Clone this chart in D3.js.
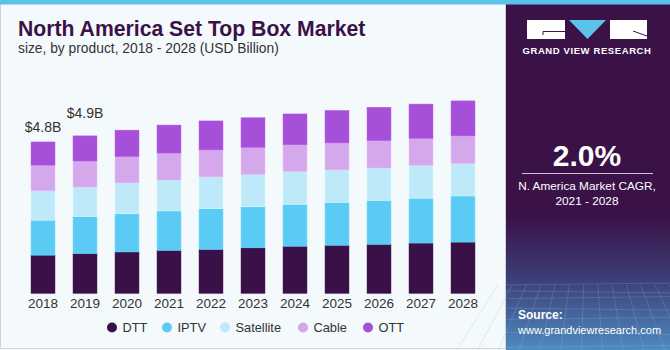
<!DOCTYPE html>
<html>
<head>
<meta charset="utf-8">
<script src="https://cdn.jsdelivr.net/npm/d3@7"></script>
<style>
  html, body { margin: 0; padding: 0; background: #fff; }
  svg { display: block; font-family: "Liberation Sans", Arial, sans-serif; }
</style>
</head>
<body>
<div id="chart"></div>
<script>
const years = ["2018", "2019", "2020", "2021", "2022", "2023", "2024", "2025", "2026", "2027", "2028"];
const products = ["DTT", "IPTV", "Satellite", "Cable", "OTT"];
const dtt       = [1.20, 1.25, 1.30, 1.35, 1.38, 1.43, 1.48, 1.51, 1.54, 1.58, 1.61];
const iptv      = [1.10, 1.16, 1.20, 1.24, 1.28, 1.29, 1.32, 1.35, 1.38, 1.41, 1.45];
const satellite = [0.92, 0.93, 0.97, 0.97, 1.00, 1.01, 1.03, 1.02, 1.02, 1.03, 1.02];
const cable     = [0.81, 0.82, 0.83, 0.85, 0.85, 0.86, 0.84, 0.85, 0.86, 0.85, 0.87];
const ott       = [0.73, 0.79, 0.83, 0.88, 0.91, 0.93, 0.97, 1.02, 1.05, 1.08, 1.10];
const totalLabels = ["$4.8B", "$4.9B"];
const colors = ["#3a1048", "#5bcbf5", "#bde9f9", "#d5a8ec", "#a64fd8"];

const W = 670, H = 350;
const svg = d3.select("#chart").append("svg").attr("width", W).attr("height", H);

const defs = svg.append("defs");
const grad = defs.append("linearGradient").attr("id", "panelGrad")
  .attr("x1", 0).attr("y1", 0).attr("x2", 0).attr("y2", 1);
grad.append("stop").attr("offset", "0%").attr("stop-color", "#3a1248");
grad.append("stop").attr("offset", "62%").attr("stop-color", "#3a1248");
grad.append("stop").attr("offset", "80%").attr("stop-color", "#3d3f78");
grad.append("stop").attr("offset", "100%").attr("stop-color", "#4d8cc0");

// === Backgrounds ===
svg.append("rect").attr("width", W).attr("height", H).attr("fill", "#f4f9fc");
svg.append("rect").attr("x", 0.5).attr("y", 0.5).attr("width", 505).attr("height", 348)
  .attr("fill", "#f4f9fc").attr("stroke", "#d0d4d8");
svg.append("rect").attr("x", 506).attr("y", 0).attr("width", W - 506).attr("height", H)
  .attr("fill", "url(#panelGrad)");
svg.append("rect").attr("width", W).attr("height", 4.5).attr("fill", "#5bc3ea");

// faint grid texture at bottom of panel
const tex = svg.append("g").attr("stroke", "#8fb8e0").attr("stroke-opacity", 0.35).attr("stroke-width", 0.7);
for (let i = 0; i < 9; i++) {
  const yy = 285 + i * i * 0.9 + i * 5;
  tex.append("line").attr("x1", 506).attr("x2", W).attr("y1", yy).attr("y2", yy + (i % 2 ? 2 : -2));
}
for (let i = 0; i < 14; i++) {
  const xx = 506 + i * 13;
  tex.append("line").attr("x1", xx + (xx - 588) * 0.1).attr("x2", xx + (xx - 588) * 0.6)
    .attr("y1", 285).attr("y2", H);
}

// === Title ===
svg.append("text").attr("x", 18).attr("y", 36)
  .style("font-size", "21.2px").style("font-weight", "bold").style("fill", "#3a1248")
  .text("North America Set Top Box Market");
svg.append("text").attr("x", 18).attr("y", 53)
  .style("font-size", "13.8px").style("fill", "#333")
  .text("size, by product, 2018 - 2028 (USD Billion)");

// === Chart ===
const x = d3.scaleBand().domain(years).range([22, 484]).paddingInner(0.43).paddingOuter(0.215);
const y = d3.scaleLinear().domain([0, 6]).range([293.3, 293.3 - 6 * 31.8]);

const rows = years.map((yr, i) => ({
  year: yr, DTT: dtt[i], IPTV: iptv[i], Satellite: satellite[i], Cable: cable[i], OTT: ott[i]
}));
const stack = d3.stack().keys(products)(rows);

const bars = svg.append("g");
stack.forEach((layer, k) => {
  bars.append("g").attr("fill", colors[k])
    .selectAll("rect").data(layer).enter().append("rect")
    .attr("x", (d) => x(d.data.year))
    .attr("width", x.bandwidth())
    .attr("y", (d) => y(d[1]))
    .attr("height", (d) => y(d[0]) - y(d[1]))
    .attr("stroke", d3.color(colors[k]).brighter(0.3))
    .attr("stroke-width", 0.5);
});

// totals for first two years
const labelOffsets = [10, 18];
totalLabels.forEach((t, i) => {
  const top = d3.sum(products, (p) => rows[i][p]);
  svg.append("text")
    .attr("x", x(years[i]) + x.bandwidth() / 2)
    .attr("y", y(top) - labelOffsets[i])
    .attr("text-anchor", "middle")
    .style("font-size", "14px").style("fill", "#333")
    .text(t);
});

// x axis labels
const xAxis = svg.append("g").attr("transform", "translate(0,293)")
  .call(d3.axisBottom(x).tickSize(0).tickPadding(5));
xAxis.select(".domain").remove();
xAxis.selectAll("text").style("font-size", "13.5px").style("fill", "#333")
  .style("font-family", "Liberation Sans, Arial, sans-serif");

// === Legend ===
const legendX = [112, 167, 225, 303, 368];
const legend = svg.append("g");
products.forEach((p, i) => {
  const g = legend.append("g").attr("transform", `translate(${legendX[i]},327.5)`);
  g.append("circle").attr("r", 5).attr("fill", colors[i]);
  g.append("text").attr("x", 10.5).attr("y", 4.5)
    .style("font-size", "12.8px").style("fill", "#333").text(p);
});

// === Right panel ===
const logo = svg.append("g").attr("fill", "#fff");
logo.append("rect").attr("x", 527).attr("y", 20).attr("width", 38).attr("height", 19);
logo.append("path").attr("d", "M569,20 L606,20 L587.5,39 Z").attr("fill", "#5bc3ea");
logo.append("rect").attr("x", 610).attr("y", 20).attr("width", 37).attr("height", 19);
logo.append("path").attr("d", "M543,31.5 L565,31.5 M543,31.5 L543,35").attr("stroke", "#3a1248").attr("stroke-width", 1);
logo.append("path").attr("d", "M633,31 L647,36").attr("stroke", "#3a1248").attr("stroke-width", 1);
svg.append("text").attr("x", 587).attr("y", 54).attr("text-anchor", "middle")
  .style("font-size", "9.5px").style("font-weight", "bold").style("fill", "#fff")
  .style("letter-spacing", "0.6px").text("GRAND VIEW RESEARCH");

svg.append("text").attr("x", 587).attr("y", 166).attr("text-anchor", "middle")
  .style("font-size", "30px").style("font-weight", "bold").style("fill", "#fff").text("2.0%");
svg.append("line").attr("x1", 522).attr("x2", 653).attr("y1", 173.5).attr("y2", 173.5)
  .attr("stroke", "#cfc4d8").attr("stroke-width", 1);
svg.append("text").attr("x", 587).attr("y", 190).attr("text-anchor", "middle")
  .style("font-size", "11.8px").style("fill", "#fff").text("N. America Market CAGR,");
svg.append("text").attr("x", 587).attr("y", 205).attr("text-anchor", "middle")
  .style("font-size", "11.8px").style("fill", "#fff").text("2021 - 2028");

svg.append("text").attr("x", 518).attr("y", 319)
  .style("font-size", "12px").style("font-weight", "bold").style("fill", "#fff").text("Source:");
svg.append("text").attr("x", 518).attr("y", 334)
  .style("font-size", "11px").style("fill", "#fff").text("www.grandviewresearch.com");
</script>
</body>
</html>
